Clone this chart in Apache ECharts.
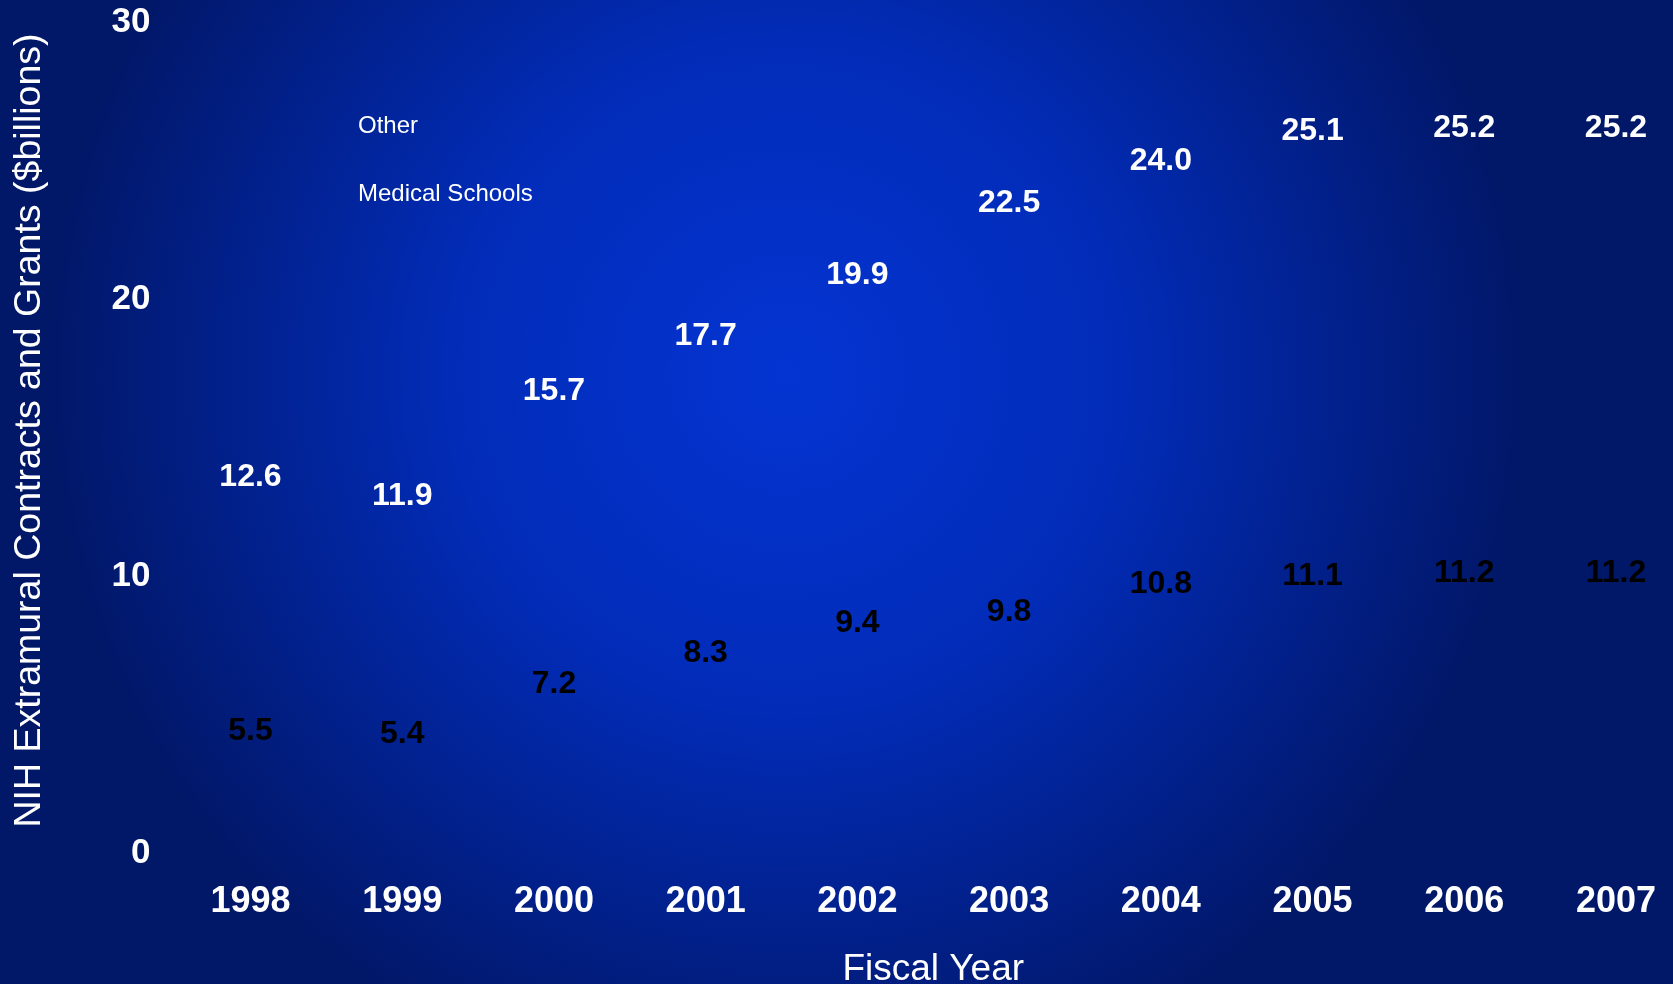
<!DOCTYPE html>
<html>
<head>
<meta charset="utf-8">
<script src="https://cdn.jsdelivr.net/npm/echarts@6/dist/echarts.min.js"></script>
<style>
html,body{margin:0;padding:0;width:100%;height:100%;overflow:hidden;background:#011a72;}
#chart{width:1673px;height:984px;}
</style>
</head>
<body>
<div id="chart"></div>
<script>
const years = ['1998','1999','2000','2001','2002','2003','2004','2005','2006','2007'];
const medicalSchools = [5.5, 5.4, 7.2, 8.3, 9.4, 9.8, 10.8, 11.1, 11.2, 11.2];
const totals = [12.6, 11.9, 15.7, 17.7, 19.9, 22.5, 24.0, 25.1, 25.2, 25.2];
const yTicks = [0, 10, 20, 30];

const other = totals.map((t, i) => +(t - medicalSchools[i]).toFixed(1));
const FONT = "'Liberation Sans', Arial, sans-serif";

const chart = echarts.init(document.getElementById('chart'));
chart.setOption({
  backgroundColor: {
    type: 'radial', x: 0.47, y: 0.38, r: 0.75,
    colorStops: [
      {offset: 0, color: '#0434d2'},
      {offset: 0.45, color: '#022cb8'},
      {offset: 1, color: '#011768'}
    ]
  },
  animation: false,
  textStyle: {fontFamily: FONT},
  legend: {
    data: ['Other', 'Medical Schools'],
    orient: 'vertical',
    left: 347, top: 107,
    itemWidth: 1, itemHeight: 28, itemGap: 40,
    icon: 'rect',
    textStyle: {color: '#ffffff', fontSize: 24, fontFamily: FONT, lineHeight: 28}
  },
  grid: {left: 250.5, right: 57, top: 22, bottom: 131, containLabel: false, outerBoundsMode: 'none'},
  xAxis: {
    type: 'category',
    data: years,
    boundaryGap: false,
    axisLine: {show: false}, axisTick: {show: false}, splitLine: {show: false},
    axisLabel: {color: '#ffffff', fontSize: 36, fontWeight: 'bold', margin: 31, fontFamily: FONT},
    name: 'Fiscal Year', nameLocation: 'middle', nameGap: 98,
    nameTextStyle: {color: '#ffffff', fontSize: 37, fontFamily: FONT}
  },
  yAxis: {
    type: 'value', min: yTicks[0], max: yTicks[yTicks.length - 1], interval: 10,
    axisLine: {show: false}, axisTick: {show: false}, splitLine: {show: false},
    axisLabel: {color: '#ffffff', fontSize: 35, fontWeight: 'bold', margin: 100, fontFamily: FONT},
    name: 'NIH Extramural Contracts and Grants ($billions)', nameLocation: 'middle', nameGap: 202,
    nameTextStyle: {color: '#ffffff', fontSize: 37.5, fontFamily: FONT, padding: [0, 0, 0, 14]}
  },
  series: [
    {
      name: 'Medical Schools', type: 'bar', stack: 'total', barWidth: 60,
      data: medicalSchools,
      itemStyle: {color: 'rgba(0,0,0,0)'},
      label: {show: true, position: 'insideTop', distance: 14.5, color: '#000000',
        fontSize: 32, fontWeight: 'bold', fontFamily: FONT,
        formatter: p => medicalSchools[p.dataIndex].toFixed(1)}
    },
    {
      name: 'Other', type: 'bar', stack: 'total', barWidth: 60,
      data: other,
      itemStyle: {color: 'rgba(0,0,0,0)'},
      label: {show: true, position: 'top', distance: 11, color: '#ffffff',
        fontSize: 32, fontWeight: 'bold', fontFamily: FONT,
        formatter: p => totals[p.dataIndex].toFixed(1)}
    }
  ]
});
</script>
</body>
</html>
